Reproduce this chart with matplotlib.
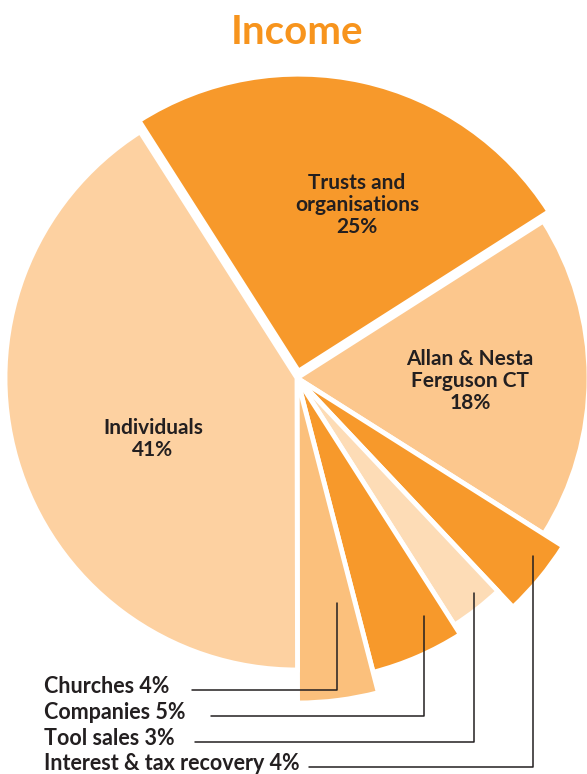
import numpy as np
import matplotlib
matplotlib.use('Agg')
import matplotlib.pyplot as plt

# Income shares (%), clockwise from the top
categories = ['Trusts and\norganisations', 'Allan & Nesta\nFerguson CT', 'Interest & tax recovery',
              'Tool sales', 'Companies', 'Churches', 'Individuals']
shares = [25, 18, 4, 3, 5, 4, 41]
colors = ['#F7992B', '#FCC78D', '#F7992B', '#FDDCB6', '#F7992B', '#FBC07C', '#FDD1A1']

# slice radius (px) - the small slices poke out further
radii = [297, 292, 315, 293, 304, 325, 292]

orange = '#F7941D'
ink = '#231F20'
plt.rcParams['font.family'] = ['Lato', 'DejaVu Sans']

W, H = 587, 774
fig = plt.figure(figsize=(W / 100, H / 100), dpi=100)
ax = fig.add_axes([0, 0, 1, 1])

R = 290
cx, cy = 297, H - 378
wedges, _ = ax.pie(shares, colors=colors, startangle=122.5, counterclock=False,
                   center=(cx, cy), radius=R,
                   wedgeprops=dict(edgecolor='white', linewidth=3.5))

for w, r in zip(wedges, radii):
    w.set_radius(r)

# pull the trusts slice out a little
mid = np.radians((wedges[0].theta1 + wedges[0].theta2) / 2)
wedges[0].set_center((cx + 7 * np.cos(mid), cy + 7 * np.sin(mid)))

ax.set_xlim(0, W)
ax.set_ylim(0, H)
ax.set_aspect('equal', adjustable='box')
ax.axis('off')

# title
ax.text(297, H - 32, 'Income', ha='center', va='center', fontsize=29,
        fontweight='bold', color=orange)

# labels inside the big slices
inside = [(0, 357, 205), (1, 470, 381), (6, 153, 439)]
for i, x, y in inside:
    ax.text(x, H - y, f'{categories[i]}\n{shares[i]}%', ha='center', va='center',
            fontsize=15, fontweight='bold', color=ink, linespacing=1.1)

# small slices get leader lines to labels at the bottom left
# (slice index, baseline, position along slice, radius fraction, gap after text)
leaders = [(5, 693, 0.70, 0.79, 14.5),
           (4, 719, 0.76, 0.93, 16),
           (3, 745, 0.65, 0.96, 13),
           (2, 770, 0.67, 1.02, 4.5)]
for i, base, t, rf, gap in leaders:
    w = wedges[i]
    th = np.radians(w.theta1 + t * (w.theta2 - w.theta1))
    anchor = (cx + R * rf * np.cos(th), cy + R * rf * np.sin(th))
    ax.annotate(f'{categories[i]} {shares[i]}%', xy=anchor, xytext=(44, H - base),
                ha='left', va='baseline', fontsize=15.5, fontweight='bold', color=ink,
                arrowprops=dict(arrowstyle='-', color=ink, lw=1.1,
                                connectionstyle='angle,angleA=0,angleB=90,rad=0',
                                relpos=(1, 0.32), shrinkA=gap, shrinkB=0))

fig.savefig('out.png', dpi=100)
